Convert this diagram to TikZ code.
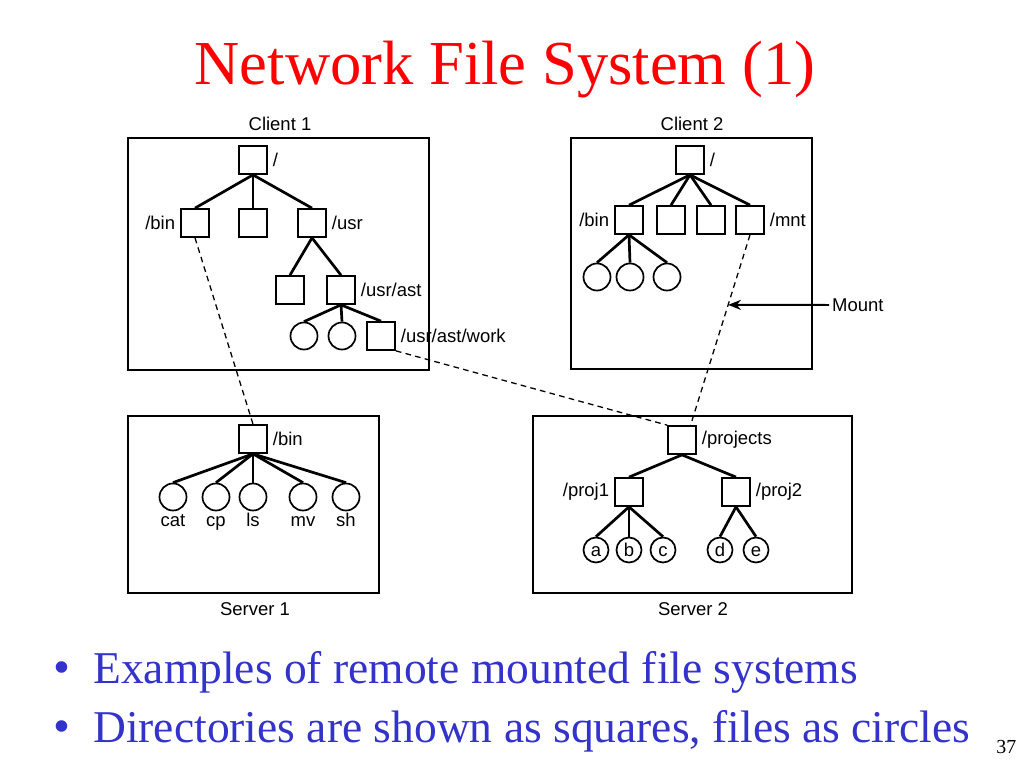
\documentclass[tikz,border=0pt]{standalone}
\usepackage{fontspec}
\setmainfont{Liberation Serif}
\newfontfamily\figfont{Liberation Sans}
\usetikzlibrary{arrows.meta}
\definecolor{titlered}{RGB}{255,0,0}
\definecolor{bulletblue}{RGB}{51,51,204}
\tikzset{
  dirbox/.style={draw, line width=1.2pt, minimum size=19.7pt, inner sep=0pt},
  filecirc/.style={draw, circle, line width=1.2pt, minimum size=19pt, inner sep=0pt},
  smallfile/.style={filecirc, minimum size=17.6pt, text height=9.2pt, text depth=0pt},
  treeedge/.style={line width=1.9pt},
  mountlink/.style={line width=0.9pt, dash pattern=on 4pt off 3pt},
  machine/.style={line width=1.4pt},
  fname/.style={text height=9.5pt, text depth=2.5pt, inner sep=1pt}
}
\begin{document}
\begin{tikzpicture}[x=0.703125pt, y=-0.703125pt]
  \useasboundingbox (0,0) rectangle (1024,768);
  \node[anchor=base, text=titlered, font=\fontsize{44}{50}\selectfont] (title) at (505,85) {Network File System (1)};

  \begin{scope}[font=\figfont\fontsize{13}{15}\selectfont]
    \draw[machine] (128,138) rectangle (429,370);
    \draw[machine] (571,138) rectangle (812,369);
    \draw[machine] (128,416) rectangle (379,593);
    \draw[machine] (533,416) rectangle (852,593);
    \node (client1) at (280,124) {Client 1};
    \node (client2) at (692,124) {Client 2};
    \node (server1) at (255,609) {Server 1};
    \node (server2) at (693,609) {Server 2};

    \node[dirbox, label=right:/] (c1root) at (253,160) {};
    \node[dirbox, label=left:/bin] (c1bin) at (195,223) {};
    \node[dirbox] (c1mid) at (253,223) {};
    \node[dirbox, label=right:/usr] (c1usr) at (312,223) {};
    \node[dirbox] (c1usra) at (290,290) {};
    \node[dirbox, label=right:/usr/ast] (c1ast) at (341,290) {};
    \node[filecirc] (c1f1) at (304,336) {};
    \node[filecirc] (c1f2) at (342,336) {};
    \node[dirbox, label=right:/usr/ast/work] (c1work) at (381,336) {};
    \foreach \n in {c1bin,c1mid,c1usr}
      \draw[treeedge] (c1root.south) -- (\n.north);
    \foreach \n in {c1usra,c1ast}
      \draw[treeedge] (c1usr.south) -- (\n.north);
    \foreach \n in {c1f1,c1f2,c1work}
      \draw[treeedge] (c1ast.south) -- (\n.north);

    \node[dirbox, label=right:/] (c2root) at (690,160) {};
    \node[dirbox, label=left:/bin] (c2bin) at (629,220) {};
    \node[dirbox] (c2d2) at (671,220) {};
    \node[dirbox] (c2d3) at (711,220) {};
    \node[dirbox, label=right:/mnt] (c2mnt) at (750,220) {};
    \node[filecirc] (c2f1) at (597,277) {};
    \node[filecirc] (c2f2) at (630,277) {};
    \node[filecirc] (c2f3) at (667,277) {};
    \foreach \n in {c2bin,c2d2,c2d3,c2mnt}
      \draw[treeedge] (c2root.south) -- (\n.north);
    \foreach \n in {c2f1,c2f2,c2f3}
      \draw[treeedge] (c2bin.south) -- (\n.north);

    \node[dirbox, label=right:/bin] (s1bin) at (253,439) {};
    \foreach \x/\n in {173/cat,216/cp,253/ls,303/mv,346/sh} {
      \node[filecirc, label={[fname]below:\n}] (s1\n) at (\x,497) {};
      \draw[treeedge] (s1bin.south) -- (s1\n.north);
    }

    \node[dirbox, label=right:/projects] (proj) at (682,440) {};
    \node[dirbox, label=left:/proj1] (proj1) at (629,492) {};
    \node[dirbox, label=right:/proj2] (proj2) at (736,492) {};
    \draw[treeedge] (proj.south) -- (proj1.north);
    \draw[treeedge] (proj.south) -- (proj2.north);
    \foreach \x/\n in {596/a,629/b,663/c} {
      \node[smallfile] (s2\n) at (\x,550) {\n};
      \draw[treeedge] (proj1.south) -- (s2\n.north);
    }
    \foreach \x/\n in {720/d,756/e} {
      \node[smallfile] (s2\n) at (\x,550) {\n};
      \draw[treeedge] (proj2.south) -- (s2\n.north);
    }

    \draw[mountlink] (c1bin.south) -- (s1bin.north);
    \draw[mountlink] (c1work.south east) -- (proj.north west);
    \draw[mountlink] (c2mnt.south) -- coordinate[pos=0.368] (mpt) (proj.60);
    \node[anchor=west, inner sep=2pt] (mount) at (829,305) {Mount};
    \draw[line width=1.4pt, -{Stealth[length=9pt,width=7pt]}] (mount.west) -- (mpt);
  \end{scope}

  \begin{scope}[text=bulletblue, font=\fontsize{32}{38}\selectfont]
    \node[anchor=base west, inner sep=0pt] (item1) at (93,683) {Examples of remote mounted file systems};
    \node[anchor=base west, inner sep=0pt] (item2) at (93,742) {Directories are shown as squares, files as circles};
    \node[anchor=base, inner sep=0pt, font=\fontsize{34}{38}\selectfont] (dot1) at (62,683) {•};
    \node[anchor=base, inner sep=0pt, font=\fontsize{34}{38}\selectfont] (dot2) at (62,742) {•};
  \end{scope}
  \node[anchor=base west, inner sep=0pt, font=\fontsize{14}{16}\selectfont] (pagenum) at (996,753) {37};
\end{tikzpicture}
\end{document}
